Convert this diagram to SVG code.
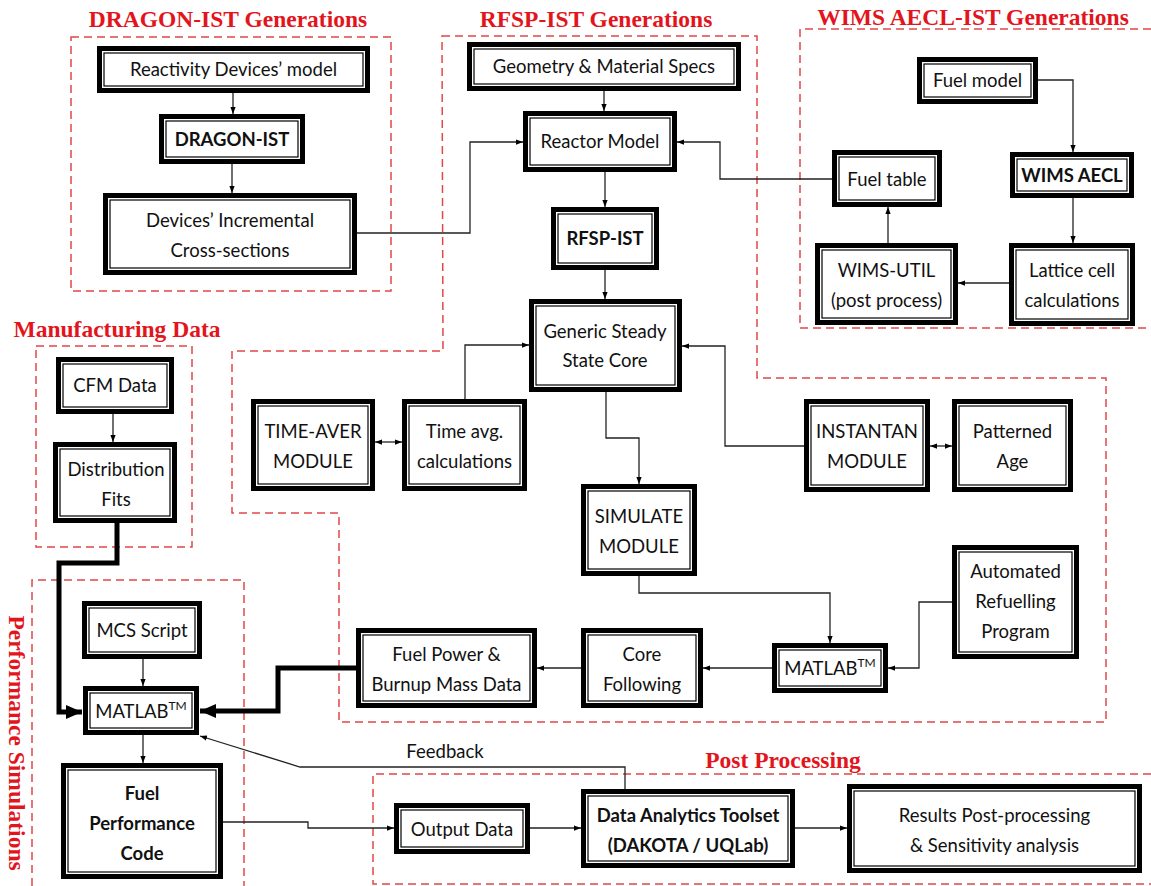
<svg xmlns="http://www.w3.org/2000/svg" width="1151" height="886" viewBox="0 0 1151 886">
<style>
.o{fill:#fff;stroke:#000;stroke-width:5}
.i{fill:none;stroke:#000;stroke-width:1.2}
.t{font-family:Lato,"Open Sans",sans-serif;font-size:18.5px;fill:#111;text-anchor:middle}
.b{font-weight:bold}
.ti{font-family:"Liberation Serif","Times New Roman",serif;font-weight:bold;font-size:23.5px;fill:#e3151c;text-anchor:middle}
.d{fill:none;stroke:#e04848;stroke-width:1.5;stroke-dasharray:8 5}
.c{fill:none;stroke:#222;stroke-width:1.3}
.k{fill:none;stroke:#000;stroke-width:5}
</style>
<defs>
<marker id="a" viewBox="0 0 8 8" refX="8" refY="4" markerWidth="7" markerHeight="7" orient="auto-start-reverse" markerUnits="userSpaceOnUse"><path d="M0,1 L8,4 L0,7z" fill="#000"/></marker>
<marker id="A" viewBox="0 0 16 14" refX="16" refY="7" markerWidth="16" markerHeight="14" orient="auto" markerUnits="userSpaceOnUse"><path d="M0,0 L16,7 L0,14z" fill="#000"/></marker>
</defs>

<g id="regions">
<rect class="d" x="71" y="37" width="320" height="254"/>
<path class="d" d="M442,36 H757 V378 H1106 V722 H339 V513 H232 V351 H443 Z"/>
<path class="d" d="M1151,29 H800 V328 H1151"/>
<rect class="d" x="36" y="346" width="156" height="201"/>
<path class="d" d="M32,886 V580 H244 V886"/>
<path class="d" d="M1151,774 H373 V884 H1151"/>
</g>

<g id="titles">
<text class="ti" x="228" y="27">DRAGON-IST Generations</text>
<text class="ti" x="596" y="27">RFSP-IST Generations</text>
<text class="ti" x="973" y="25">WIMS AECL-IST Generations</text>
<text class="ti" x="117" y="337">Manufacturing Data</text>
<text class="ti" x="783" y="768">Post Processing</text>
<text class="ti" transform="translate(9,743) rotate(90)">Performance Simulations</text>
</g>

<g id="connectors">
<path class="c" d="M233,93 V114" marker-end="url(#a)"/>
<path class="c" d="M232,164 V193" marker-end="url(#a)"/>
<path class="c" d="M357,233 H470 V142 H523" marker-end="url(#a)"/>
<path class="c" d="M604,91 V111" marker-end="url(#a)"/>
<path class="c" d="M605,172 V207" marker-end="url(#a)"/>
<path class="c" d="M605,270 V299" marker-end="url(#a)"/>
<path class="c" d="M832,179 H720 V142 H677" marker-end="url(#a)"/>
<path class="c" d="M1038,80 H1073 V152" marker-end="url(#a)"/>
<path class="c" d="M1073,198 V243" marker-end="url(#a)"/>
<path class="c" d="M1009,283 H958" marker-end="url(#a)"/>
<path class="c" d="M888,243 V207" marker-end="url(#a)"/>
<path class="c" d="M465,399 V345 H529" marker-end="url(#a)"/>
<path class="c" d="M804,446 H725 V346 H682" marker-end="url(#a)"/>
<path class="c" d="M375,442 H402" marker-start="url(#a)" marker-end="url(#a)"/>
<path class="c" d="M930,446 H952" marker-start="url(#a)" marker-end="url(#a)"/>
<path class="c" d="M606,392 V438 H639 V484" marker-end="url(#a)"/>
<path class="c" d="M639,576 V593 H830 V643" marker-end="url(#a)"/>
<path class="c" d="M952,602 H919 V668 H888" marker-end="url(#a)"/>
<path class="c" d="M772,668 H703" marker-end="url(#a)"/>
<path class="c" d="M581,668 H537" marker-end="url(#a)"/>
<path class="k" d="M356,668 H278 V711 H200" marker-end="url(#A)"/>
<path class="k" d="M117,523 V563 H59 V712 H82" marker-end="url(#A)"/>
<path class="c" d="M113,414 V442" marker-end="url(#a)"/>
<path class="c" d="M143,659 V686" marker-end="url(#a)"/>
<path class="c" d="M143,735 V763" marker-end="url(#a)"/>
<path class="c" d="M223,822 H308 V828 H394" marker-end="url(#a)"/>
<path class="c" d="M530,828 H581" marker-end="url(#a)"/>
<path class="c" d="M795,828 H847" marker-end="url(#a)"/>
<path class="c" d="M625,789 V767 H300 L200,736" marker-end="url(#a)"/>
<text class="t" x="445" y="758">Feedback</text>
</g>

<g id="reactivity"><rect class="o" x="99.5" y="48.5" width="268" height="42"/><rect class="i" x="104" y="53" width="259" height="33"/><text class="t" x="233.5" y="76">Reactivity Devices’ model</text></g>
<g id="dragon"><rect class="o" x="161.5" y="116.5" width="141" height="45"/><rect class="i" x="166" y="121" width="132" height="36"/><text class="t b" x="232" y="146">DRAGON-IST</text></g>
<g id="devices"><rect class="o" x="105.5" y="195.5" width="249" height="77"/><rect class="i" x="110" y="200" width="240" height="68"/><text class="t" x="230" y="227">Devices’ Incremental</text><text class="t" x="230" y="257">Cross-sections</text></g>

<g id="geometry"><rect class="o" x="469.5" y="44.5" width="269" height="44"/><rect class="i" x="474" y="49" width="260" height="35"/><text class="t" x="604" y="73">Geometry &amp; Material Specs</text></g>
<g id="reactor"><rect class="o" x="525.5" y="113.5" width="149" height="56"/><rect class="i" x="530" y="118" width="140" height="47"/><text class="t" x="600" y="148">Reactor Model</text></g>
<g id="rfsp"><rect class="o" x="553.5" y="209.5" width="103" height="58"/><rect class="i" x="558" y="214" width="94" height="49"/><text class="t b" x="605" y="245">RFSP-IST</text></g>
<g id="generic"><rect class="o" x="531.5" y="301.5" width="148" height="88"/><rect class="i" x="536" y="306" width="139" height="79"/><text class="t" x="605" y="338">Generic Steady</text><text class="t" x="605" y="367">State Core</text></g>
<g id="timeaver"><rect class="o" x="253.5" y="401.5" width="119" height="87"/><rect class="i" x="258" y="406" width="110" height="78"/><text class="t" x="313" y="438">TIME-AVER</text><text class="t" x="313" y="468">MODULE</text></g>
<g id="timeavg"><rect class="o" x="404.5" y="401.5" width="120" height="87"/><rect class="i" x="409" y="406" width="111" height="78"/><text class="t" x="464.5" y="438">Time avg.</text><text class="t" x="464.5" y="468">calculations</text></g>
<g id="simulate"><rect class="o" x="583.5" y="486.5" width="111" height="87"/><rect class="i" x="588" y="491" width="102" height="78"/><text class="t" x="639" y="523">SIMULATE</text><text class="t" x="639" y="553">MODULE</text></g>
<g id="instantan"><rect class="o" x="806.5" y="401.5" width="121" height="88"/><rect class="i" x="811" y="406" width="112" height="79"/><text class="t" x="867" y="438">INSTANTAN</text><text class="t" x="867" y="468">MODULE</text></g>
<g id="patterned"><rect class="o" x="954.5" y="401.5" width="116" height="88"/><rect class="i" x="959" y="406" width="107" height="79"/><text class="t" x="1012.5" y="438">Patterned</text><text class="t" x="1012.5" y="468">Age</text></g>
<g id="automated"><rect class="o" x="954.5" y="547.5" width="122" height="109"/><rect class="i" x="959" y="552" width="113" height="100"/><text class="t" x="1015.5" y="578">Automated</text><text class="t" x="1015.5" y="608">Refuelling</text><text class="t" x="1015.5" y="638">Program</text></g>
<g id="matlab2"><rect class="o" x="774.5" y="645.5" width="111" height="45"/><rect class="i" x="779" y="650" width="102" height="36"/><text class="t" x="830" y="675">MATLAB<tspan font-size="12" dy="-8">TM</tspan></text></g>
<g id="corefollow"><rect class="o" x="583.5" y="630.5" width="117" height="75"/><rect class="i" x="588" y="635" width="108" height="66"/><text class="t" x="642" y="661">Core</text><text class="t" x="642" y="691">Following</text></g>
<g id="fuelpower"><rect class="o" x="358.5" y="630.5" width="176" height="75"/><rect class="i" x="363" y="635" width="167" height="66"/><text class="t" x="446.5" y="661">Fuel Power &amp;</text><text class="t" x="446.5" y="691">Burnup Mass Data</text></g>

<g id="fuelmodel"><rect class="o" x="919.5" y="59.5" width="116" height="42"/><rect class="i" x="924" y="64" width="107" height="33"/><text class="t" x="977.5" y="87">Fuel model</text></g>
<g id="wimsaecl"><rect class="o" x="1012.5" y="154.5" width="119" height="41"/><rect class="i" x="1017" y="159" width="110" height="32"/><text class="t b" x="1072" y="182">WIMS AECL</text></g>
<g id="lattice"><rect class="o" x="1011.5" y="245.5" width="121" height="78"/><rect class="i" x="1016" y="250" width="112" height="69"/><text class="t" x="1072" y="277">Lattice cell</text><text class="t" x="1072" y="307">calculations</text></g>
<g id="wimsutil"><rect class="o" x="817.5" y="245.5" width="138" height="77"/><rect class="i" x="822" y="250" width="129" height="68"/><text class="t" x="886.5" y="277">WIMS-UTIL</text><text class="t" x="886.5" y="307">(post process)</text></g>
<g id="fueltable"><rect class="o" x="834.5" y="152.5" width="105" height="52"/><rect class="i" x="839" y="157" width="96" height="43"/><text class="t" x="887" y="186">Fuel table</text></g>

<g id="cfm"><rect class="o" x="58.5" y="359.5" width="113" height="52"/><rect class="i" x="63" y="364" width="104" height="43"/><text class="t" x="115" y="392">CFM Data</text></g>
<g id="distfits"><rect class="o" x="55.5" y="444.5" width="119" height="76"/><rect class="i" x="60" y="449" width="110" height="67"/><text class="t" x="116" y="476">Distribution</text><text class="t" x="116" y="506">Fits</text></g>
<g id="mcs"><rect class="o" x="84.5" y="603.5" width="115" height="53"/><rect class="i" x="89" y="608" width="106" height="44"/><text class="t" x="142" y="637">MCS Script</text></g>
<g id="matlab1"><rect class="o" x="85.5" y="688.5" width="111" height="44"/><rect class="i" x="90" y="693" width="102" height="35"/><text class="t" x="141" y="718">MATLAB<tspan font-size="12" dy="-8">TM</tspan></text></g>
<g id="fuelperf"><rect class="o" x="63.5" y="765.5" width="157" height="111"/><rect class="i" x="68" y="770" width="148" height="102"/><text class="t b" x="142" y="800">Fuel</text><text class="t b" x="142" y="830">Performance</text><text class="t b" x="142" y="860">Code</text></g>
<g id="output"><rect class="o" x="396.5" y="805.5" width="131" height="46"/><rect class="i" x="401" y="810" width="122" height="37"/><text class="t" x="462" y="836">Output Data</text></g>
<g id="dataanalytics"><rect class="o" x="583.5" y="791.5" width="209" height="74"/><rect class="i" x="588" y="796" width="200" height="65"/><text class="t b" x="688" y="822">Data Analytics Toolset</text><text class="t b" x="688" y="852">(DAKOTA / UQLab)</text></g>
<g id="results"><rect class="o" x="849.5" y="786.5" width="290" height="84"/><rect class="i" x="854" y="791" width="281" height="75"/><text class="t" x="994.5" y="822">Results Post-processing</text><text class="t" x="994.5" y="852">&amp; Sensitivity analysis</text></g>
</svg>
